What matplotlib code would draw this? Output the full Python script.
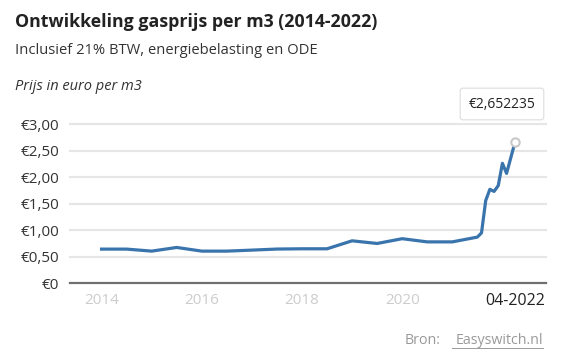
import matplotlib
matplotlib.use("Agg")
import matplotlib.pyplot as plt
from matplotlib.lines import Line2D

plt.rcParams['font.family'] = ['Open Sans', 'DejaVu Sans']

# Data (decimal years, euro per m3)
years = [2014.0, 2014.5, 2015.0, 2015.5, 2016.0, 2016.5, 2017.0, 2017.5,
         2018.0, 2018.5, 2019.0, 2019.5, 2020.0, 2020.5, 2021.0, 2021.5,
         2021.583, 2021.667, 2021.75, 2021.833, 2021.917, 2022.0, 2022.083,
         2022.25]
prices = [0.644, 0.644, 0.606, 0.675, 0.606, 0.606, 0.625, 0.645,
          0.65, 0.65, 0.80, 0.75, 0.84, 0.78, 0.78, 0.87,
          0.95, 1.56, 1.77, 1.73, 1.84, 2.26, 2.07,
          2.652235]
ytick_vals = [0, 0.5, 1.0, 1.5, 2.0, 2.5, 3.0]
ytick_labels = ['€0', '€0,50', '€1,00', '€1,50', '€2,00', '€2,50', '€3,00']
xtick_vals = [2014, 2016, 2018, 2020, 2022.25]
xtick_labels = ['2014', '2016', '2018', '2020', '04-2022']

W, H = 562, 358
fig = plt.figure(figsize=(W / 100, H / 100), dpi=100)
fig.patch.set_facecolor('white')

left, right, bottom, top = 70, 546, 283.3, 124
ax = fig.add_axes([left / W, 1 - bottom / H, (right - left) / W, (bottom - top) / H])
ax.set_xlim(2013.37, 2022.87)
ax.set_ylim(0, 3.0)

for s in ax.spines.values():
    s.set_visible(False)

ax.set_yticks(ytick_vals)
ax.set_yticklabels(ytick_labels, fontsize=11, color='#333333')
ax.set_xticks(xtick_vals)
ax.set_xticklabels(xtick_labels, fontsize=11)
for lbl in ax.get_xticklabels():
    lbl.set_color('#cccccc')
ax.get_xticklabels()[-1].set_color('#222222')
ax.get_xticklabels()[-1].set_fontsize(11.5)
ax.tick_params(axis='both', length=0)
ax.tick_params(axis='y', pad=8)
ax.tick_params(axis='x', pad=7)

for v in ytick_vals[1:]:
    ax.axhline(v, color='#e6e6e6', lw=1.5, zorder=1, clip_on=False)
ax.axhline(0, color='#707070', lw=1.6, zorder=2, clip_on=False)

ax.plot(years, prices, color='#3a74ad', lw=2.3, zorder=3, solid_joinstyle='round')
ax.plot([years[-1]], [prices[-1]], marker='o', ms=6, mfc='white', mec='#c8c8c8',
        mew=1.5, zorder=4, clip_on=False)

# Titles
fig.text(15 / W, 1 - 22 / H, 'Ontwikkeling gasprijs per m3 (2014-2022)', fontsize=12.8,
         fontweight='bold', color='#222222', va='center', ha='left')
fig.text(15 / W, 1 - 50 / H, 'Inclusief 21% BTW, energiebelasting en ODE', fontsize=10.6,
         color='#333333', va='center', ha='left')
fig.text(15 / W, 1 - 87 / H, 'Prijs in euro per m3', fontsize=10.5, style='italic',
         color='#333333', va='center', ha='left')

# Tooltip
fig.text(502 / W, 1 - 104 / H, '€2,652235', fontsize=10, color='#222222',
         ha='center', va='center',
         bbox=dict(boxstyle='round,pad=0.6,rounding_size=0.2', fc='white',
                   ec='#dddddd', lw=0.8))

# Source
fig.text(441 / W, 1 - 340 / H, 'Bron:', fontsize=10.3, color='#9a9a9a', ha='right', va='center')
fig.text(543 / W, 1 - 340 / H, 'Easyswitch.nl', fontsize=10.3, color='#9a9a9a',
         ha='right', va='center')
fig.add_artist(Line2D([452 / W, 543 / W], [1 - 348 / H, 1 - 348 / H], color='#9a9a9a', lw=0.7))

fig.savefig('out.png', dpi=100, facecolor='white')
